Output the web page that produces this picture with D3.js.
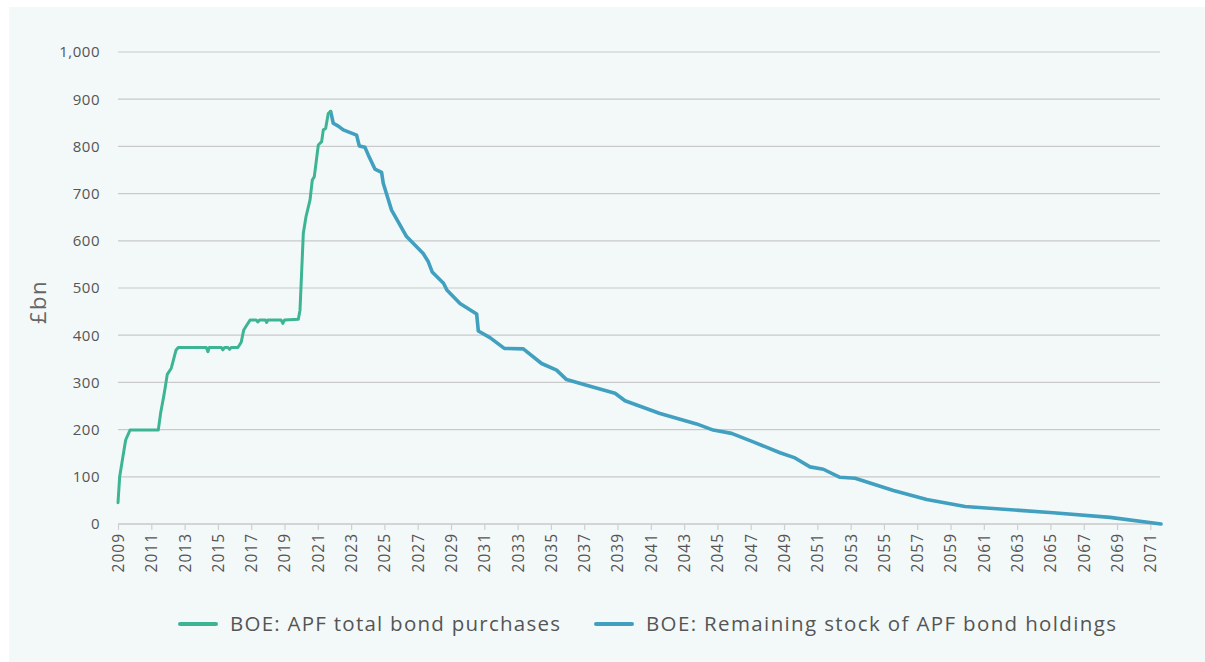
<!DOCTYPE html>
<html>
<head>
<meta charset="utf-8">
<script src="https://cdn.jsdelivr.net/npm/d3@7"></script>
<style>
  html, body { margin: 0; padding: 0; background: #ffffff; }
  svg { display: block; }
  text { font-family: "Open Sans", "Noto Sans", sans-serif; }
</style>
</head>
<body>
<svg id="chart" width="1205" height="662"></svg>
<script>
// ---- Data ----
// Decimal year / £bn values
const purchaseYears = [2009.0, 2009.1, 2009.26, 2009.46, 2009.72, 2010.5, 2011.42, 2011.56, 2011.76, 2011.96, 2012.2, 2012.48, 2012.62,
  2013.5, 2014.3, 2014.4, 2014.48, 2015.2, 2015.3, 2015.4, 2015.6, 2015.7, 2015.8, 2016.2, 2016.4, 2016.55, 2016.73, 2016.93,
  2017.3, 2017.4, 2017.5, 2017.85, 2017.93, 2018.0, 2018.8, 2018.9, 2019.0, 2019.83, 2019.93, 2020.13, 2020.29, 2020.53,
  2020.67, 2020.79, 2021.03, 2021.23, 2021.33, 2021.47, 2021.63, 2021.77];
const purchaseValues = [45, 100, 135, 178, 199, 199, 199, 235, 273, 317, 330, 368, 374,
  374, 374, 365, 374, 374, 369, 374, 374, 370, 374, 374, 385, 411, 421, 432,
  432, 428, 432, 432, 427, 432, 432, 425, 432, 434, 453, 616, 651, 686,
  729, 736, 803, 810, 835, 838, 870, 874];

const stockYears = [2021.77, 2021.93, 2022.23, 2022.53, 2023.33, 2023.49, 2023.83, 2024.03, 2024.43, 2024.83, 2024.93, 2025.43,
  2026.33, 2027.33, 2027.63, 2027.87, 2028.55, 2028.75, 2029.54, 2030.54, 2030.64, 2031.34, 2032.2, 2033.34, 2034.44,
  2035.34, 2035.94, 2037.35, 2038.85, 2039.45, 2041.55, 2043.75, 2044.75, 2045.85, 2047.15, 2048.76, 2049.66, 2050.56,
  2051.36, 2052.36, 2053.27, 2055.57, 2057.57, 2059.87, 2065.17, 2068.58, 2071.64];
const stockValues = [874, 849, 843, 835, 824, 801, 798, 782, 752, 745, 722, 665,
  609, 573, 556, 534, 510, 496, 467, 445, 409, 395, 372, 371, 340,
  326, 306, 292, 277, 261, 234, 212, 199, 192, 174, 151, 140, 121,
  116, 99, 97, 71, 52, 37, 24, 14, 0];

const yTicks = [0, 100, 200, 300, 400, 500, 600, 700, 800, 900, 1000];
const xTicks = d3.range(2009, 2072, 2);
const seriesNames = ["BOE: APF total bond purchases", "BOE: Remaining stock of APF bond holdings"];
const seriesColors = ["#3db594", "#41a0c0"];

// ---- Layout ----
const svg = d3.select("#chart");
const W = 1205, H = 662;
const mLeft = 118, mRight = 1161, mTop = 52, mBottom = 524;

svg.append("rect").attr("x", 9).attr("y", 7).attr("width", W - 9).attr("height", H - 7).attr("fill", "#f3f9f9");

const x = d3.scaleLinear().domain([2009, 2071.64]).range([mLeft, mRight]);
const y = d3.scaleLinear().domain([0, 1000]).range([mBottom, mTop]);

// Gridlines
svg.append("g").selectAll("line").data(yTicks.filter(d => d > 0)).join("line")
  .attr("x1", mLeft).attr("x2", mRight - 1)
  .attr("y1", d => y(d)).attr("y2", d => y(d))
  .attr("stroke", "#cacaca").attr("stroke-width", 1.2);

// Y axis labels
const yAxis = d3.axisLeft(y).tickValues(yTicks).tickSize(0).tickPadding(18)
  .tickFormat(d3.format(","));
const gy = svg.append("g").attr("transform", `translate(${mLeft},0)`).call(yAxis);
gy.select(".domain").remove();
gy.selectAll("text").attr("fill", "#555").attr("font-size", 15).attr("letter-spacing", 0.5);

// X axis
const xAxis = d3.axisBottom(x).tickValues(xTicks).tickSize(6).tickPadding(5).tickFormat(d3.format("d"));
const gx = svg.append("g").attr("transform", `translate(0,${mBottom})`).call(xAxis);
gx.select(".domain").attr("stroke", "#d4d4d4").attr("stroke-width", 2)
  .attr("d", `M${mLeft},0H${mRight}`);
gx.selectAll(".tick line").attr("stroke", "#cfcfcf").attr("stroke-width", 1.2);
gx.selectAll("text")
  .attr("fill", "#555").attr("font-size", 15.5).attr("letter-spacing", 1)
  .attr("transform", "rotate(-90)")
  .attr("text-anchor", "end")
  .attr("x", -9).attr("y", 0).attr("dy", "0.35em");

// Y title
svg.append("text").attr("transform", "translate(38,302) rotate(-90)")
  .attr("text-anchor", "middle").attr("dy", "0.35em")
  .attr("fill", "#666").attr("font-size", 22).attr("letter-spacing", 1.5).text("£bn");

// Lines
const line = d3.line().x(d => x(d[0])).y(d => y(d[1]));
const stockData = d3.zip(stockYears, stockValues);
const purchaseData = d3.zip(purchaseYears, purchaseValues);

svg.append("path").datum(stockData).attr("d", line)
  .attr("fill", "none").attr("stroke", seriesColors[1]).attr("stroke-width", 3.6)
  .attr("stroke-linejoin", "round").attr("stroke-linecap", "round");
svg.append("path").datum(purchaseData).attr("d", line)
  .attr("fill", "none").attr("stroke", seriesColors[0]).attr("stroke-width", 3)
  .attr("stroke-linejoin", "round").attr("stroke-linecap", "round");

// Legend
const legendX = [180, 596];
const legendLen = [330, 470];
const legend = svg.append("g");
seriesNames.forEach((name, i) => {
  const g = legend.append("g").attr("transform", `translate(${legendX[i]},624)`);
  g.append("line").attr("x1", 0).attr("x2", 36).attr("y1", 0).attr("y2", 0)
    .attr("stroke", seriesColors[i]).attr("stroke-width", 4).attr("stroke-linecap", "round");
  g.append("text").attr("x", 50).attr("dy", "0.35em").attr("fill", "#555")
    .attr("font-size", 20.5)
    .attr("textLength", legendLen[i]).attr("lengthAdjust", "spacing")
    .text(name);
});
</script>
</body>
</html>
